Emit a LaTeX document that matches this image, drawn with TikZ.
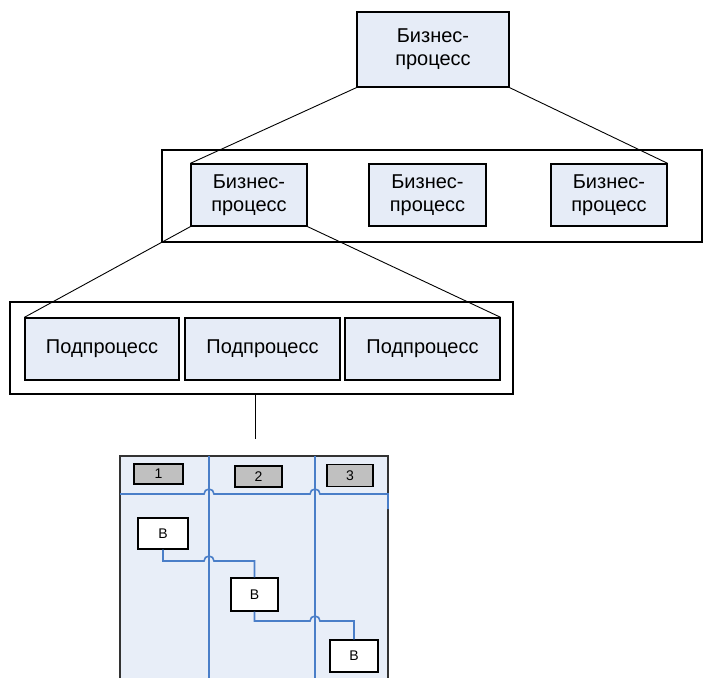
\documentclass[tikz,border=0pt]{standalone}
\usepackage{fontspec}
\setmainfont{Liberation Sans}
\definecolor{boxfill}{HTML}{E6ECF7}
\definecolor{lanefill}{HTML}{E8EEF8}
\definecolor{laneblue}{HTML}{4A7EC8}
\definecolor{hdrgray}{HTML}{C0C0C0}
\begin{document}
\begin{tikzpicture}[x=1pt, y=-1pt,
	procbox/.style={draw, line width=1.3pt, fill=boxfill, inner sep=0pt, align=center,
		font=\fontsize{20}{23}\selectfont},
	hdrbox/.style={draw, line width=1.3pt, fill=hdrgray, inner sep=0pt,
		minimum width=48pt, minimum height=20pt, font=\fontsize{14}{14}\selectfont},
	taskbox/.style={draw, line width=1.3pt, fill=white, inner sep=0pt,
		minimum width=48pt, minimum height=32pt, font=\fontsize{14}{14}\selectfont},
	frame/.style={draw, line width=1.1pt},
	link/.style={line width=.9pt},
	lane/.style={draw=laneblue, line width=1.6pt}]
	\useasboundingbox (0,0) rectangle (704,678);
	% upper level
	\node[procbox, minimum width=152pt, minimum height=75pt] (top) at (433,49.5) {Бизнес-\\процесс};
	\draw[frame] (162,150) rectangle (702,242);
	\node[procbox, minimum width=116pt, minimum height=62pt] (bpa) at (249,195) {Бизнес-\\процесс};
	\node[procbox, minimum width=117pt, minimum height=62pt] (bpb) at (427.5,195) {Бизнес-\\процесс};
	\node[procbox, minimum width=116pt, minimum height=62pt] (bpc) at (609,195) {Бизнес-\\процесс};
	\draw[link] (top.south west) -- (bpa.north west);
	\draw[link] (top.south east) -- (bpc.north east);
	% subprocesses
	\draw[frame] (10,302) rectangle (513,394);
	\node[procbox, minimum width=154pt, minimum height=62pt] (sub1) at (102,349) {Подпроцесс};
	\node[procbox, minimum width=155pt, minimum height=62pt] (sub2) at (262.5,349) {Подпроцесс};
	\node[procbox, minimum width=155pt, minimum height=62pt] (sub3) at (422.5,349) {Подпроцесс};
	\draw[link] (bpa.south west) -- (sub1.north west);
	\draw[link] (bpa.south east) -- (sub3.north east);
	\coordinate (drop) at (255,394);
	\draw[link] (drop) -- ++(0,45);
	% swimlanes
	\fill[lanefill] (120,456) rectangle (388,678);
	\draw[line width=1.3pt, draw=black!80] (120,678) -- (120,456) -- (388,456) -- (388,678);
	\draw[lane] (209,456) -- (209,678);
	\draw[lane] (315,456) -- (315,678);
	\draw[lane] (120,494) -- (204,494) arc (180:360:5) -- (310,494) arc (180:360:5) -- (388,494) -- (388,509);
	\node[hdrbox, minimum width=49pt] (h1) at (158.5,474) {1};
	\node[hdrbox, minimum width=47pt, minimum height=21pt] (h2) at (258.5,476.5) {2};
	\node[hdrbox, minimum width=46pt, minimum height=22pt] (h3) at (350,475.5) {3};
	\node[taskbox, minimum width=50pt, minimum height=31pt] (t1) at (163,533.5) {В};
	\node[taskbox, minimum width=47pt, minimum height=33pt] (t2) at (254.5,594.5) {В};
	\node[taskbox, minimum width=48pt, minimum height=32pt] (t3) at (354,656) {В};
	\draw[lane] (t1.south) |- (204,561) arc (180:360:5) -| (t2.north);
	\draw[lane] (t2.south) |- (310,621) arc (180:360:5) -| (t3.north);
\end{tikzpicture}
\end{document}
